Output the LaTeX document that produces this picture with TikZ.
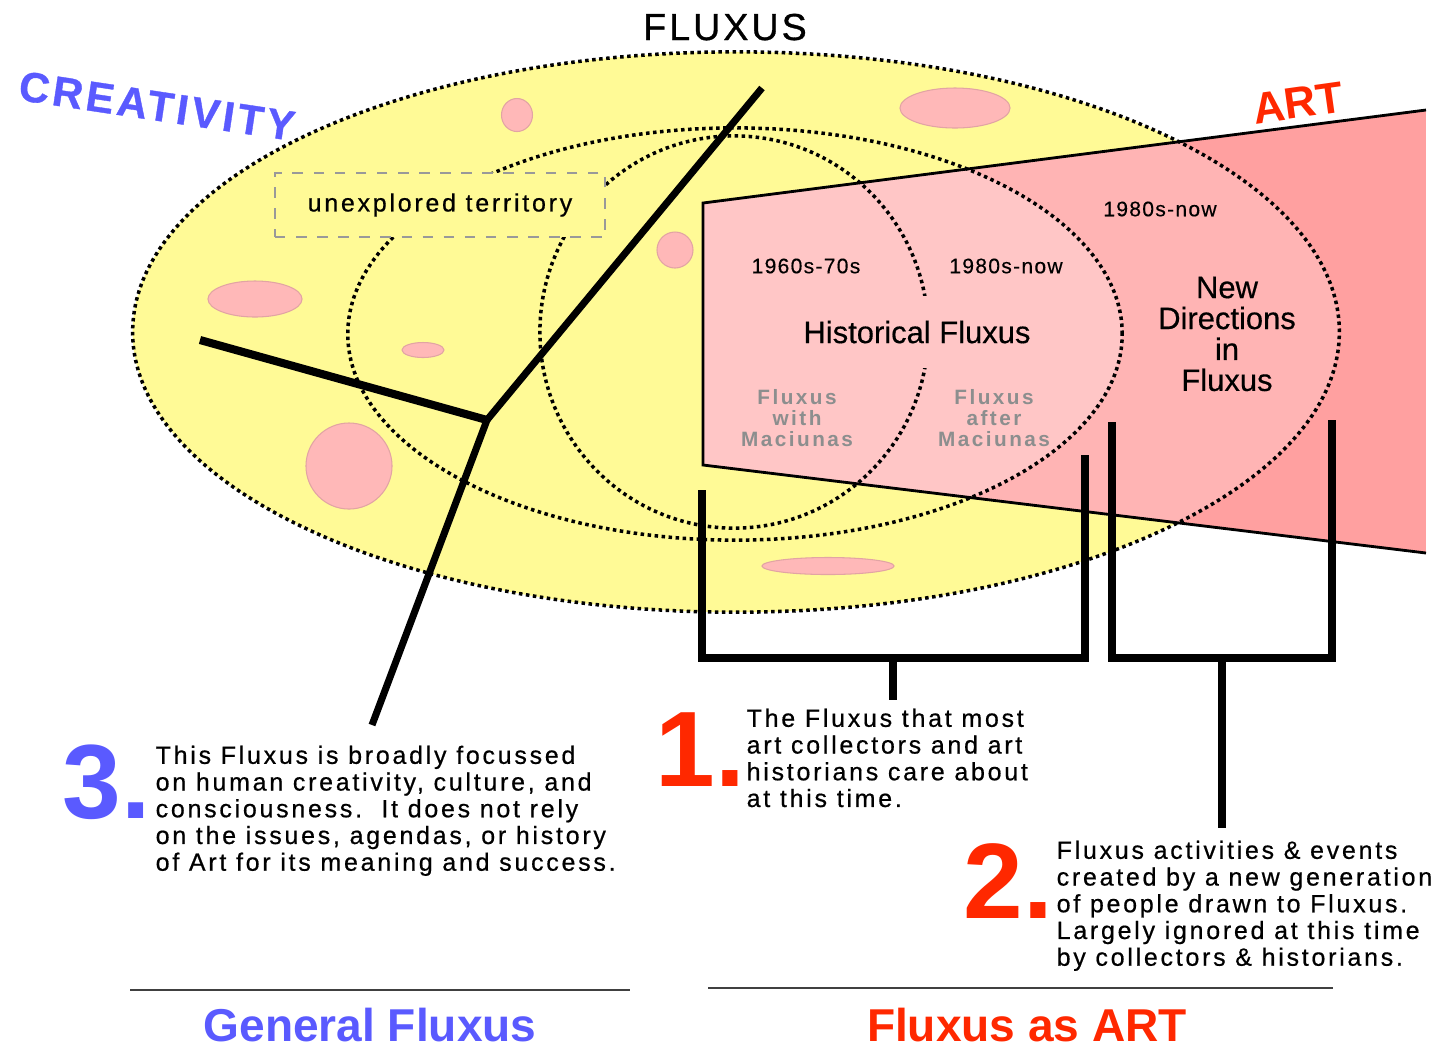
\documentclass[tikz,border=0pt]{standalone}
\usepackage{fontspec}
\setmainfont{Liberation Sans}
\newfontfamily\trk{Liberation Sans}[LetterSpace=11, FakeBold=0.6]
\newfontfamily\trkg{Liberation Sans}[LetterSpace=12]
\newfontfamily\trkd{Liberation Sans}[LetterSpace=6, FakeBold=0.3]
\newfontfamily\trkc{Liberation Sans}[LetterSpace=8, FakeBold=0.8]
\newfontfamily\plainb{Liberation Sans}[FakeBold=0.4]
\definecolor{yel}{HTML}{FFFA96}
\definecolor{blob}{HTML}{FFB8B8}
\definecolor{blobedge}{HTML}{E2A4A4}
\definecolor{artout}{HTML}{FFA0A0}
\definecolor{artmid}{HTML}{FFB4B4}
\definecolor{artin}{HTML}{FFC6C6}
\definecolor{bluec}{HTML}{5A5AFF}
\definecolor{redc}{HTML}{FF2800}
\definecolor{grayt}{HTML}{8C8E8E}
\begin{document}
\begin{tikzpicture}[x=0.01cm,y=-0.01cm,
  dotline/.style={line width=1pt, dash pattern=on 1pt off 1pt},
  blobshape/.style={fill=blob, draw=blobedge, line width=0.3pt},
  heavy/.style={line width=2pt},
  bracket/.style={line width=2.2pt, line join=miter},
  wedgeline/.style={line width=0.8pt},
  body/.style={inner sep=0pt, align=left, anchor=north west, font={\trk\fontsize{7.1}{7.6}\selectfont}},
  bignum/.style={inner sep=0pt, anchor=base west},
  date/.style={inner sep=0pt, font={\trkd\fontsize{6}{6}\selectfont}},
  graylab/.style={inner sep=0pt, align=center, text=grayt, font={\trkg\bfseries\fontsize{5.9}{6}\selectfont}},
  title/.style={inner sep=0pt, anchor=base, font={\bfseries\fontsize{13.1}{14}\selectfont}},
  rule/.style={draw=black!75, line width=0.6pt}
]
\useasboundingbox (0,0) rectangle (1442,1047);
\fill[white] (0,0) rectangle (1442,1047);

% outer yellow field
\fill[yel] (736,332) ellipse [x radius=6.03cm, y radius=2.8cm];

% pink blobs
\path[blobshape] (517,115) ellipse [x radius=0.155cm, y radius=0.165cm];
\path[blobshape] (955,108) ellipse [x radius=0.55cm, y radius=0.2cm];
\path[blobshape] (255,299) ellipse [x radius=0.47cm, y radius=0.18cm];
\path[blobshape] (423,350) ellipse [x radius=0.21cm, y radius=0.075cm];
\path[blobshape] (675,250) ellipse [x radius=0.18cm, y radius=0.18cm];
\path[blobshape] (349,466) ellipse [x radius=0.43cm, y radius=0.43cm];
\path[blobshape] (828,566) ellipse [x radius=0.66cm, y radius=0.085cm];

% ART wedge
\coordinate (w1) at (703,203);
\coordinate (w2) at (1426,110);
\coordinate (w3) at (1426,553);
\coordinate (w4) at (703,465);
\begin{scope}
  \clip (w1) -- (w2) -- (w3) -- (w4) -- cycle;
  \fill[artout] (w1) -- (w2) -- (w3) -- (w4) -- cycle;
  \fill[artmid] (736,332) ellipse [x radius=6.03cm, y radius=2.8cm];
  \fill[artin] (735,334) ellipse [x radius=3.87cm, y radius=2.06cm];
\end{scope}

% dotted ellipses
\draw[dotline] (736,332) ellipse [x radius=6.03cm, y radius=2.8cm];
\draw[dotline] (735,334) ellipse [x radius=3.87cm, y radius=2.06cm];
\draw[dotline] (734,332) ellipse [x radius=1.94cm, y radius=1.96cm];

% wedge outline
\draw[wedgeline] (w2) -- (w1) -- (w4) -- (w3);

% unexplored territory box
\node[draw=black!40, dashed, line width=0.4pt, fill=yel, minimum width=3.3cm, minimum height=0.64cm, inner sep=0pt,
      font={\trk\fontsize{7.1}{7.6}\selectfont}] (unexp) at (440,205) {unexplored territory};

% labels inside ART
\node[fill=artin, inner sep=0pt, minimum height=0.72cm, minimum width=2.42cm, font={\plainb\fontsize{8.8}{9}\selectfont}] (hist) at (917,332) {Historical Fluxus};
\node[date] (d1) at (806,266) {1960s-70s};
\node[date] (d2) at (1006,266) {1980s-now};
\node[date] (d3) at (1160,209) {1980s-now};
\node[inner sep=0pt, align=center, font={\plainb\fontsize{8.8}{8.8}\selectfont}] (newdir) at (1227,334) {New\\Directions\\in\\Fluxus};
\node[graylab] (gwith) at (797,418) {Fluxus\\with\\Maciunas};
\node[graylab] (gafter) at (994,418) {Fluxus\\after\\Maciunas};

% headings
\node[inner sep=0pt, anchor=base, font={\trkc\fontsize{10.7}{11}\selectfont}] (fluxus) at (725,40) {FLUXUS};
\node[inner sep=0pt, rotate=-8.5, text=bluec, font={\trkc\bfseries\fontsize{12}{12}\selectfont}] (creat) at (157,106) {CREATIVITY};
\node[inner sep=0pt, rotate=8, text=redc, font={\bfseries\fontsize{12.5}{12.5}\selectfont}] (art) at (1298,103) {ART};

% text blocks
\node[bignum, text=bluec, font={\bfseries\fontsize{30}{30}\selectfont}] (n3) at (62,818) {3.};
\node[body] (t3) at (155,745) {This Fluxus is broadly focussed\\on human creativity, culture, and\\consciousness.\ \ It does not rely\\on the issues, agendas, or history\\of Art for its meaning and success.};
\node[bignum, text=redc, font={\bfseries\fontsize{30.5}{31}\selectfont}] (n1) at (655,786) {1.};
\node[body] (t1) at (746,708) {The Fluxus that most\\art collectors and art\\historians care about\\at this time.};
\node[bignum, text=redc, font={\bfseries\fontsize{30.5}{31}\selectfont}] (n2) at (963,918) {2.};
\node[body] (t2) at (1056,840) {Fluxus activities \& events\\created by a new generation\\of people drawn to Fluxus.\\Largely ignored at this time\\by collectors \& historians.};

% Y-shaped connector
\coordinate (yj) at (487,420);
\coordinate (ytop) at (762,88);
\coordinate (yleft) at (200,340);
\coordinate (ybot) at (372,725);
\draw[heavy] (ytop) -- (yj);
\draw[line width=2.3pt] (yleft) -- (yj);
\draw[heavy] (yj) -- (ybot);

% bracket 1
\coordinate (b1l) at (702,490);
\coordinate (b1r) at (1085,455);
\coordinate (b1m) at (893,658);
\coordinate (b1s) at (893,700);
\draw[bracket] (b1l) -- (702,658) -- (1085,658) -- (b1r);
\draw[bracket] (b1m) -- (b1s);

% bracket 2
\coordinate (b2l) at (1112,422);
\coordinate (b2r) at (1332,420);
\coordinate (b2m) at (1222,658);
\coordinate (b2s) at (1222,828);
\draw[bracket] (b2l) -- (1112,658) -- (1332,658) -- (b2r);
\draw[bracket] (b2m) -- (b2s);

% bottom rules and titles
\coordinate (r1a) at (130,990);
\coordinate (r1b) at (630,990);
\coordinate (r2a) at (708,988);
\coordinate (r2b) at (1333,988);
\draw[rule] (r1a) -- (r1b);
\draw[rule] (r2a) -- (r2b);
\node[title, text=bluec] (gen) at (370,1041) {General Fluxus};
\node[title, text=redc] (asart) at (1027,1041) {Fluxus as ART};
\end{tikzpicture}
\end{document}
